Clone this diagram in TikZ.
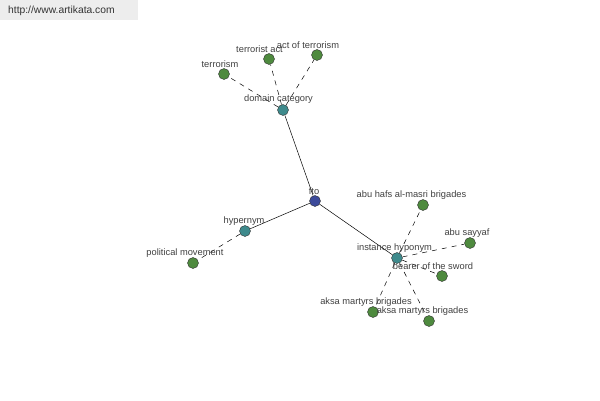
\documentclass[tikz,border=0pt]{standalone}
\usepackage{fontspec}
\setmainfont{Liberation Sans}
\definecolor{leafgreen}{HTML}{4E8A3E}
\definecolor{hubteal}{HTML}{3E8A8C}
\definecolor{rootblue}{HTML}{3C4A9A}
\tikzset{
  dot/.style={circle,draw=black!80,line width=0.4pt,minimum size=11pt,inner sep=0pt},
  leaf/.style={dot,fill=leafgreen},
  hub/.style={dot,fill=hubteal},
  root/.style={dot,fill=rootblue},
  tag/.style={font=\fontsize{9.3}{10}\selectfont,text=black!75,inner sep=0pt,yshift=-1.5pt},
  rel/.style={line width=0.5pt},
  syn/.style={line width=0.5pt,dash pattern=on 5pt off 5pt}
}
\begin{document}
\begin{tikzpicture}[x=1pt,y=-1pt]
\useasboundingbox (0,0) rectangle (600,400);
\fill[black!7](0,0)rectangle(138,20);
\node[font=\fontsize{10.3}{11}\selectfont,text=black!80,anchor=west,inner sep=0pt] (site) at (8,11) {http://www.artikata.com};
% nodes
\node[root] (fto) at (315,201) {};
\foreach \n/\x/\y in {domcat/283/110,hyper/245/231,insthypo/397/258}
  \node[hub] (\n) at (\x,\y) {};
\foreach \n/\x/\y in {terrorism/224/74,teract/269/59,actof/317/55,polmov/193/263,abuhafs/423/205,abusay/470/243,bearer/442/276,aksaa/373/312,aksab/429/321}
  \node[leaf] (\n) at (\x,\y) {};
% edges
\foreach \n in {domcat,hyper,insthypo} \draw[rel](fto)--(\n);
\foreach \h/\n in {domcat/terrorism,domcat/teract,domcat/actof,hyper/polmov,insthypo/abuhafs,insthypo/abusay,insthypo/bearer,insthypo/aksaa,insthypo/aksab}
  \draw[syn](\h)--(\n);
% labels
\foreach \n/\x/\y/\t in {fto/314/190/fto,domcat/278.5/98/domain category,hyper/244/220/hypernym,insthypo/394.5/247/instance hyponym,
  terrorism/220/63/terrorism,teract/259.5/48/terrorist act,actof/308/44/act of terrorism,polmov/185/252/political movement,
  abuhafs/411.5/194/abu hafs al-masri brigades,abusay/467/232/abu sayyaf,bearer/433/265/bearer of the sword,
  aksaa/366/301/aksa martyrs brigades,aksab/422.5/310/aksa martyrs brigades}
  \node[tag] (\n-t) at (\x,\y) {\t};
\end{tikzpicture}
\end{document}
